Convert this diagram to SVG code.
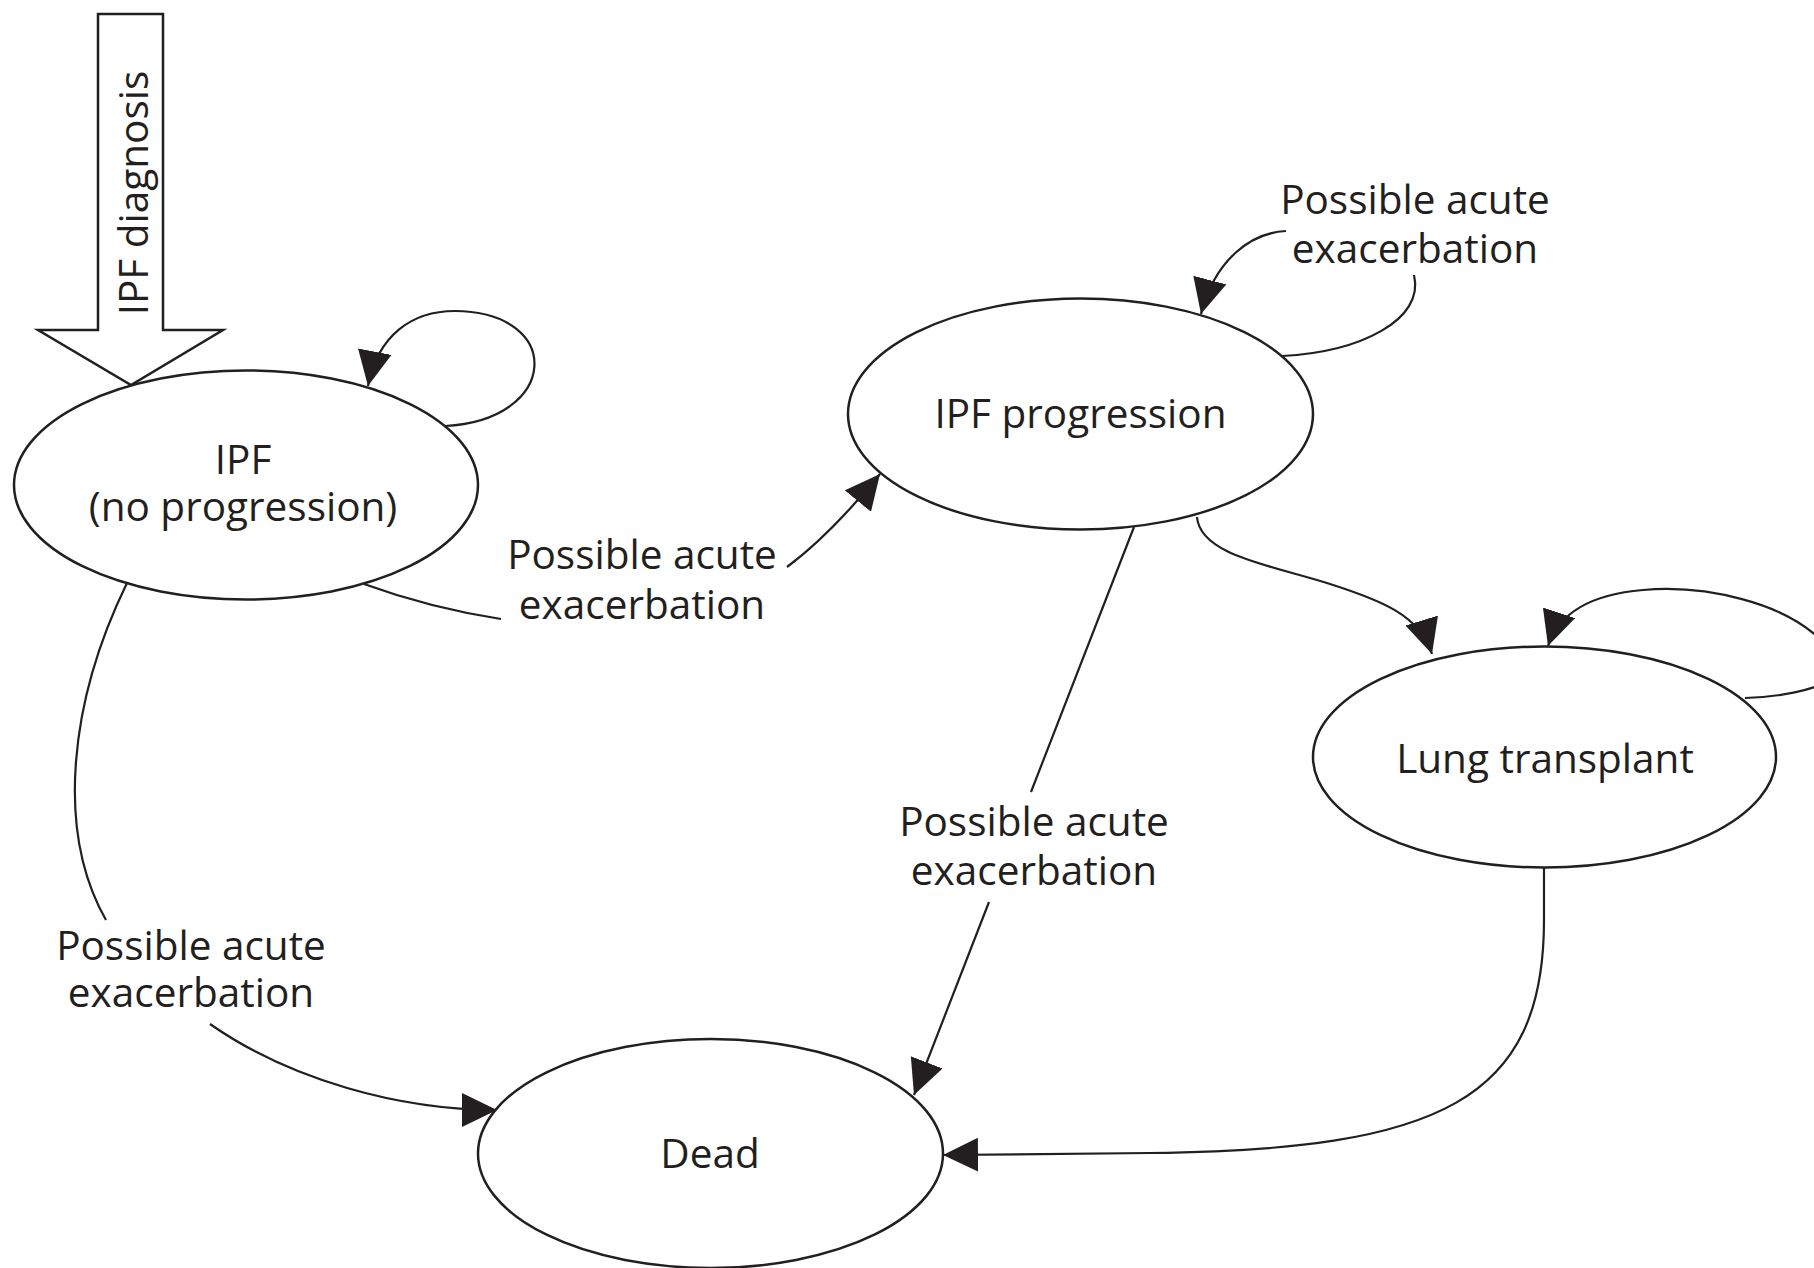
<svg xmlns="http://www.w3.org/2000/svg" width="1814" height="1268" viewBox="0 0 1814 1268">
<style>
.node ellipse{fill:#fff;stroke:#231f20;stroke-width:2.5}
.t{font-family:"Open Sans","Noto Sans","Liberation Sans",sans-serif;font-size:40.5px;fill:#231f20;text-anchor:middle}
.c{fill:none;stroke:#231f20;stroke-width:2.2}
</style>
<defs>
<marker id="ah" markerUnits="userSpaceOnUse" markerWidth="38" markerHeight="36" refX="35" refY="17" orient="auto">
<path d="M0,0 L35,17 L0,34 z" fill="#231f20"/>
</marker>
</defs>
<rect width="1814" height="1268" fill="#fff"/>

<g id="connectors">
<path class="c" d="M445 426 C560 420 565 312 455 311 C412 311 378 335 368 386" marker-end="url(#ah)"/>
<path class="c" d="M364 584 Q430 608 501 619"/>
<path class="c" d="M787 567 Q830 535 880 474" marker-end="url(#ah)"/>
<path class="c" d="M1282 356 C1360 352 1425 320 1414 275"/>
<path class="c" d="M1286 231 C1250 233 1215 260 1201 314" marker-end="url(#ah)"/>
<path class="c" d="M1197 517 C1200 555 1270 565 1330 584 C1380 600 1420 615 1432 654" marker-end="url(#ah)"/>
<path class="c" d="M1745 698 C1780 697 1814 690 1830 680"/>
<path class="c" d="M1830 650 C1790 600 1700 585 1643 590 C1595 594 1560 610 1548 646" marker-end="url(#ah)"/>
<path class="c" d="M1134 527 L1031 792 M989 902 L914 1095" marker-end="url(#ah)"/>
<path class="c" d="M127 583 C70 700 55 830 106 920"/>
<path class="c" d="M210 1024 C290 1080 400 1110 497 1110" marker-end="url(#ah)"/>
<path class="c" d="M1544 868 L1544 920 C1544 1100 1440 1150 1150 1153 L943 1155" marker-end="url(#ah)"/>
</g>

<g id="diagnosis-arrow">
<polygon points="98,14 163,14 163,330 223,330 131,385 38,330 98,330" fill="#fff" stroke="#231f20" stroke-width="2.5"/>
<text class="t" transform="translate(148,193) rotate(-90)">IPF diagnosis</text>
</g>

<g id="node-ipf" class="node">
<ellipse cx="246" cy="485" rx="232" ry="114.5"/>
<text class="t"><tspan x="243" y="474">IPF</tspan><tspan x="243" y="521">(no progression)</tspan></text>
</g>

<g id="node-progression" class="node">
<ellipse cx="1080.5" cy="414" rx="232.5" ry="115.5"/>
<text class="t" x="1080.5" y="428">IPF progression</text>
</g>

<g id="node-transplant" class="node">
<ellipse cx="1544.5" cy="757" rx="231.5" ry="110.5"/>
<text class="t" x="1545" y="773">Lung transplant</text>
</g>

<g id="node-dead" class="node">
<ellipse cx="710.5" cy="1153.5" rx="232.5" ry="114.5"/>
<text class="t" x="710" y="1168">Dead</text>
</g>

<g id="labels">
<text class="t"><tspan x="642" y="569">Possible acute</tspan><tspan x="642" y="619">exacerbation</tspan></text>
<text class="t"><tspan x="1415" y="214">Possible acute</tspan><tspan x="1415" y="263">exacerbation</tspan></text>
<text class="t"><tspan x="1034" y="836">Possible acute</tspan><tspan x="1034" y="885">exacerbation</tspan></text>
<text class="t"><tspan x="191" y="960">Possible acute</tspan><tspan x="191" y="1007">exacerbation</tspan></text>
</g>
</svg>
